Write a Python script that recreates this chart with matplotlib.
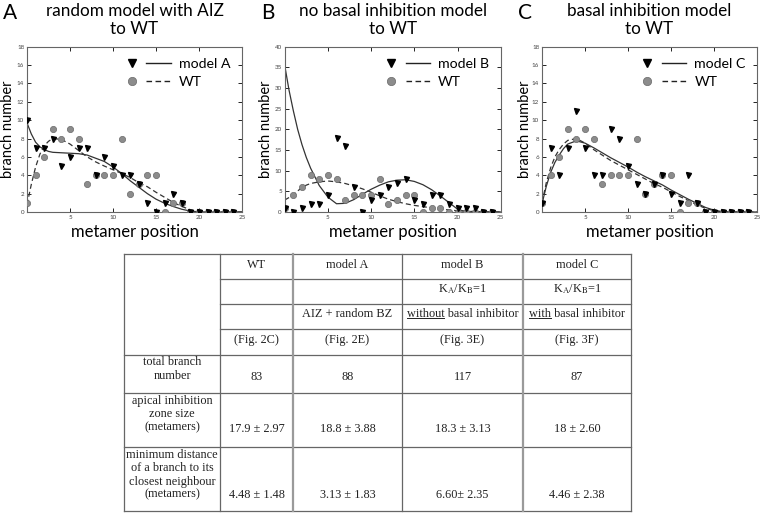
import matplotlib.pyplot as plt
from matplotlib.lines import Line2D
from matplotlib.legend_handler import HandlerTuple

plt.rcParams['font.family'] = ['Lato', 'DejaVu Sans']
plt.rcParams['mathtext.fontset'] = 'stix'

# ---- data ----
metamer = list(range(25))
wt_counts = [1, 4, 6, 9, 8, 9, 8, 3, 4, 4, 4, 8, 2, 3, 4, 4, 0, 1, 1, 0, 0, 0, 0, 0, 0]
modelA_counts = [10, 7, 7, 8, 5, 6, 7, 7, 4, 6, 5, 4, 4, 3, 1, 0, 1, 2, 1, 0, 0, 0, 0, 0, 0]
modelB_counts = [1, 0, 1, 2, 2, 4, 18, 16, 6, 0, 3, 4, 6, 7, 8, 3, 2, 4, 4, 2, 1, 1, 1, 0, 0]
modelC_counts = [1, 7, 4, 7, 11, 7, 4, 4, 9, 8, 5, 3, 2, 3, 4, 2, 1, 4, 1, 0, 0, 0, 0, 0, 0]

# fitted curves (sampled)
curve_x = [0, 0.5, 1, 1.5, 2, 2.5, 3] + list(range(4, 26))
fitA_model = [9.7, 8.5, 7.6, 7.1, 6.8, 6.6, 6.5, 6.45, 6.4, 6.35, 6.2, 5.85, 5.5, 4.9, 4.2,
              3.4, 2.7, 2.0, 1.4, 0.95, 0.6, 0.3, 0.1, 0.02, 0, 0, 0, 0, 0]
fitA_wt = [0.8, 3.0, 4.9, 6.3, 7.2, 7.7, 8.0, 7.9, 7.4, 6.7, 6.0, 5.45, 5.0, 4.6, 4.2,
           3.75, 3.2, 2.75, 2.15, 1.6, 1.05, 0.6, 0.25, 0.05, 0, 0, 0, 0, 0]
fitB_model = [35.5, 29.5, 24.5, 20.0, 16.3, 13.2, 10.6, 6.4, 3.6, 2.0, 2.1, 3.0, 4.3, 5.5, 6.5,
              7.3, 7.7, 7.8, 7.4, 6.6, 5.4, 3.9, 2.3, 0.7, 0, 0, 0, 0, 0]
fitB_wt = [2.9, 3.5, 4.1, 5.1, 5.9, 6.5, 6.9, 7.3, 7.5, 7.3, 6.9, 6.3, 5.6, 4.8, 3.9,
           3.1, 2.5, 2.0, 1.6, 1.3, 1.0, 0.7, 0.5, 0.3, 0.2, 0.1, 0.05, 0.02, 0]
fitC_model = [0.9, 2.8, 4.3, 5.4, 6.2, 6.9, 7.4, 7.75, 7.5, 7.0, 6.45, 5.9, 5.4, 4.9, 4.35,
              3.85, 3.4, 2.95, 2.4, 1.9, 1.4, 0.95, 0.5, 0.2, 0.02, 0, 0, 0, 0]
fitC_wt = [1.0, 3.2, 4.8, 6.0, 6.8, 7.4, 7.8, 8.0, 7.5, 6.8, 6.2, 5.6, 5.1, 4.6, 4.1,
           3.6, 3.1, 2.7, 2.2, 1.7, 1.25, 0.8, 0.4, 0.15, 0, 0, 0, 0, 0]

panel_letters = ['A', 'B', 'C']
panel_titles = ['random model with AIZ\nto WT', 'no basal inhibition model\nto WT',
                'basal inhibition model\nto WT']
model_names = ['model A', 'model B', 'model C']

# table contents
col_heads = ['WT', 'model A', 'model B', 'model C']
head_row2 = ['', '', r'K$_\mathrm{A}$/K$_\mathrm{B}$=1', r'K$_\mathrm{A}$/K$_\mathrm{B}$=1']
head_row3 = ['', 'AIZ + random BZ', 'without basal inhibitor', 'with basal inhibitor']
head_row4 = ['(Fig. 2C)', '(Fig. 2E)', '(Fig. 3E)', '(Fig. 3F)']
row_labels = ['total branch\nnumber', 'apical inhibition\nzone size\n(metamers)',
              'minimum distance\nof a branch to its\nclosest neighbour\n(metamers)']
total_branch = ['83', '88', '117', '87']
aiz_size = ['17.9 \u00b1 2.97', '18.8 \u00b1 3.88', '18.3 \u00b1 3.13', '18 \u00b1 2.60']
min_dist = ['4.48 \u00b1 1.48', '3.13 \u00b1 1.83', '6.60\u00b1 2.35', '4.46 \u00b1 2.38']

W, H = 761, 514
fig = plt.figure(figsize=(W / 100, H / 100), dpi=100)


def px_rect(x0, y0, x1, y1):
    return [x0 / W, 1 - y1 / H, (x1 - x0) / W, (y1 - y0) / H]


panels = [
    (27, 242, modelA_counts, fitA_model, fitA_wt, 18, 2, -0.056),
    (284.7, 500.7, modelB_counts, fitB_model, fitB_wt, 40, 5, -0.056),
    (542, 757, modelC_counts, fitC_model, fitC_wt, 18, 2, -0.047),
]

for i, (x0, x1, counts, fit_m, fit_wt, ymax, ystep, ylab_x) in enumerate(panels):
    ax = fig.add_axes(px_rect(x0, 46.7, x1, 212))
    ax.plot(curve_x, fit_m, '-', color='#333333', lw=0.9)
    ax.plot(curve_x, fit_wt, '--', color='#333333', lw=0.9, dashes=(4, 2.5))
    ax.plot(metamer, wt_counts, 'o', ms=4.5, mfc='#8c8c8c', mec='#6a6a6a', mew=0.5, zorder=3)
    ax.plot(metamer, counts, 'v', ms=3.6, color='black', zorder=4)
    ax.set_xlim(0, 25)
    ax.set_ylim(0, ymax)
    ax.set_xticks([5, 10, 15, 20, 25])
    ax.set_yticks(list(range(0, ymax + 1, ystep)))
    ax.tick_params(direction='in', top=True, right=True, length=3, width=0.6,
                   labelsize=4.5, labelcolor='#444444', pad=2)
    for sp in ax.spines.values():
        sp.set_color('#666666')
        sp.set_linewidth(0.8)
    ax.set_xlabel('metamer position', fontsize=12)
    ax.xaxis.set_label_coords(0.5, -0.075)
    ax.set_ylabel('branch number', fontsize=10.5)
    ax.yaxis.set_label_coords(ylab_x, 0.5)
    ax.set_title(panel_titles[i], fontsize=12.3, linespacing=1.15, pad=9)
    fig.text((x0 - 24) / W, 1 - 13 / H, panel_letters[i], fontsize=15, va='center', ha='left')

    h_mod = (Line2D([], [], ls='none', marker='v', ms=6, color='black'),
             Line2D([], [], ls='-', color='#222222', lw=1.0))
    h_wt = (Line2D([], [], ls='none', marker='o', ms=6, mfc='#8c8c8c', mec='#6a6a6a', mew=0.5),
            Line2D([], [], ls='--', color='#222222', lw=1.0, dashes=(4, 2.5)))
    ax.legend([h_mod, h_wt], [model_names[i], 'WT'], loc='upper right', frameon=False,
              fontsize=10.2, handlelength=3.6, handletextpad=0.6, labelspacing=0.45,
              borderaxespad=0.4, handler_map={tuple: HandlerTuple(ndivide=None, pad=0.2)})

# ---- table ----
tax = fig.add_axes([0, 0, 1, 1])
tax.set_xlim(0, W)
tax.set_ylim(H, 0)
tax.axis('off')

col_edges = [124, 220, 293, 402, 523, 631]
row_edges = [254, 279, 304, 329, 355, 393, 447, 511]
line_kw = dict(color='#666666', lw=0.9)
thick_kw = dict(color='#9a9a9a', lw=1.6)

for r, y in enumerate(row_edges):
    xs = col_edges[1] if r in (1, 2, 3) else col_edges[0]
    tax.plot([xs, col_edges[-1]], [y, y], **line_kw)
for j, x in enumerate(col_edges):
    kw = thick_kw if j in (2, 4) else line_kw
    tax.plot([x, x], [row_edges[0], row_edges[-1]], **kw)

serif = dict(family=['Liberation Serif', 'DejaVu Serif'], fontsize=8.8, color='#222222')
col_mid = [(col_edges[k] + col_edges[k + 1]) / 2 for k in range(1, 5)]
label_mid = (col_edges[0] + col_edges[1]) / 2

renderer = fig.canvas.get_renderer()


def cell_text(x, y, s, underline=False):
    t = tax.text(x, y, s, ha='center', va='center', **serif)
    if underline:
        bb = t.get_window_extent(renderer)
        tmp = tax.text(0, 0, s.split(' ')[0], **serif)
        wb = tmp.get_window_extent(renderer)
        tmp.remove()
        inv = tax.transData.inverted()
        ux0, uy = inv.transform((bb.x0, bb.y0 + 2.2))
        ux1, _ = inv.transform((bb.x0 + wb.width, bb.y0 + 2.2))
        tax.plot([ux0, ux1], [uy, uy], color='#222222', lw=0.7)


for k in range(4):
    x = col_mid[k]
    cell_text(x, 265, col_heads[k])
    if head_row2[k]:
        cell_text(x, 289, head_row2[k])
    if head_row3[k]:
        cell_text(x, 314, head_row3[k], underline=(k >= 2))
    cell_text(x, 340, head_row4[k])
    cell_text(x, 377, total_branch[k])
    cell_text(x, 429, aiz_size[k])
    cell_text(x, 495, min_dist[k])

label_y = [369, 414, 475]
for lbl, y in zip(row_labels, label_y):
    tax.text(label_mid, y, lbl, ha='center', va='center', linespacing=1.12, **serif)

fig.savefig('out.png', dpi=100)
